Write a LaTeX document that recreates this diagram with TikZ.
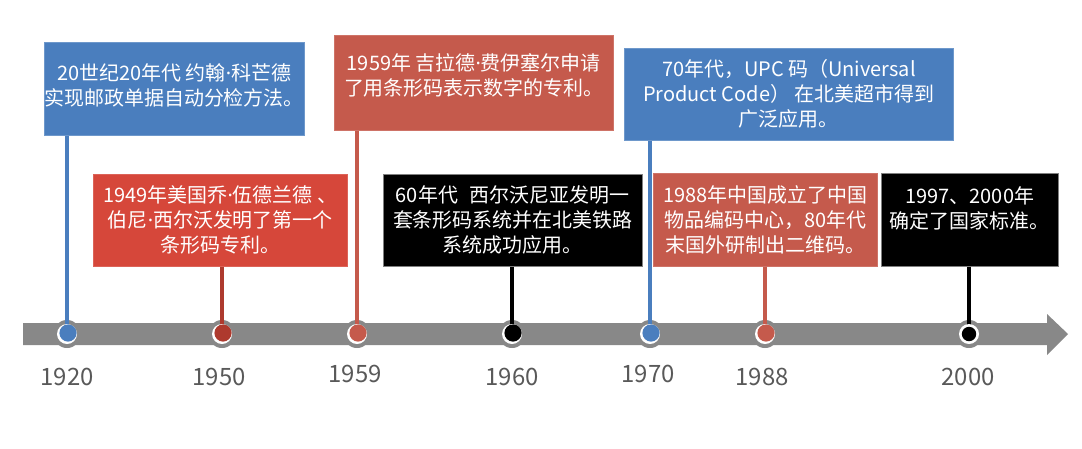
\documentclass[tikz,border=0pt]{standalone}
\usepackage{fontspec}
\usepackage{tikz}
\usetikzlibrary{positioning}
\newfontfamily\cjk{Noto Sans CJK SC}
\newfontfamily\latin{Noto Sans}
\newcommand\mdot{{\latin ·}}
\definecolor{blueA}{HTML}{4A7EBE}
\definecolor{redA}{HTML}{C55A4C}
\definecolor{redB}{HTML}{D6473A}
\definecolor{redC}{HTML}{AE3A2E}
\definecolor{axisgray}{HTML}{888888}
\definecolor{yeargray}{HTML}{595959}
\tikzset{
	event/.style={align=center,anchor=north west,inner sep=0pt,text=white,
		font=\cjk\fontsize{14.2pt}{17.8pt}\selectfont},
	ring/.style={circle,fill=axisgray,minimum size=0.7cm,inner sep=0pt},
	stem/.style={line width=0.12cm},
	year/.style={text=yeargray,font=\cjk\fontsize{17pt}{20pt}\selectfont}
}

\begin{document}
\begin{tikzpicture}[x=0.025cm,y=-0.025cm]
            \useasboundingbox (0,0) rectangle (1082,448);
            % time axis
            \fill[axisgray] (23,323) -- (1047,323) -- (1047,314) -- (1068,334)
                -- (1047,355) -- (1047,345) -- (23,345) -- cycle;
            % events
            \node[event,fill=blueA,draw=blueA!80!white,minimum width=6.475cm,minimum height=2.325cm] (e1920) at (44,42)
                {20世纪20年代 约翰\mdot 科芒德\\实现邮政单据自动分检方法。\\[-0.4cm] ~};
            \node[event,fill=redB,draw=redB!85!white,minimum width=6.35cm,minimum height=2.3cm] (e1950) at (93,174)
                {1949年美国乔\mdot 伍德兰德 、\\伯尼\mdot 西尔沃发明了第一个\\条形码专利。};
            \node[event,fill=redA,draw=redA!85!white,minimum width=6.975cm,minimum height=2.375cm] (e1959) at (334,35)
                {1959年 吉拉德\mdot 费伊塞尔申请\\了用条形码表示数字的专利。\\[-0.2cm] ~};
            \node[event,fill=black,draw=gray,minimum width=6.475cm,minimum height=2.3cm] (e1960) at (383,174)
                {60年代\hspace{0.6em}西尔沃尼亚发明一\\套条形码系统并在北美铁路\\系统成功应用。};
            \node[event,fill=blueA,draw=blueA!80!white,minimum width=8.225cm,minimum height=2.3cm] (e1970) at (624,48)
                {70年代，UPC 码（Universal\\Product Code） 在北美超市得到\\广泛应用。};
            \node[event,fill=redA,draw=redA!85!white,minimum width=5.6cm,minimum height=2.325cm] (e1988) at (653,173)
                {1988年中国成立了中国\\物品编码中心，80年代\\末国外研制出二维码。};
            \node[event,fill=black,draw=gray,minimum width=4.425cm,minimum height=2.325cm] (e2000) at (881,173)
                {1997、2000年\\确定了国家标准。\\ ~};
            % points on the axis
            \node[ring] (d1920) at (67,334) {};
            \node[ring] (d1950) at (222,334) {};
            \node[ring] (d1959) at (357,334) {};
            \node[ring] (d1960) at (512,334) {};
            \node[ring] (d1970) at (650,334) {};
            \node[ring] (d1988) at (765,334) {};
            \node[ring] (d2000) at (969,334) {};
            \draw[stem,blueA] (e1920.south -| d1920) -- (d1920.center);
            \draw[stem,redC] (e1950.south -| d1950) -- (d1950.center);
            \draw[stem,redA] (e1959.south -| d1959) -- (d1959.center);
            \draw[stem,black] (e1960.south -| d1960) -- (d1960.center);
            \draw[stem,blueA] (e1970.south -| d1970) -- (d1970.center);
            \draw[stem,redA] (e1988.south -| d1988) -- (d1988.center);
            \draw[stem,black] (e2000.south -| d2000) -- (d2000.center);
            \foreach \d/\c in {d1920/blueA,d1950/redC,d1959/redA,d1960/black,d1970/blueA,d1988/redA}{
                \fill[white] (\d) circle[radius=0.25cm];
                \fill[\c] ([shift={(1,-1)}]\d.center) circle[radius=0.215cm];
            }
            \fill[white] (d2000) circle[radius=0.25cm];
            \fill[black] (d2000) circle[radius=0.18cm];
            % years
            \node[year] (y1920) at (67,377) {1920};
            \node[year] (y1950) at (219,377) {1950};
            \node[year] (y1959) at (355,374) {1959};
            \node[year] (y1960) at (512,377) {1960};
            \node[year] (y1970) at (648,374) {1970};
            \node[year] (y1988) at (762,377) {1988};
            \node[year] (y2000) at (968,377) {2000};
        \end{tikzpicture}
\end{document}
